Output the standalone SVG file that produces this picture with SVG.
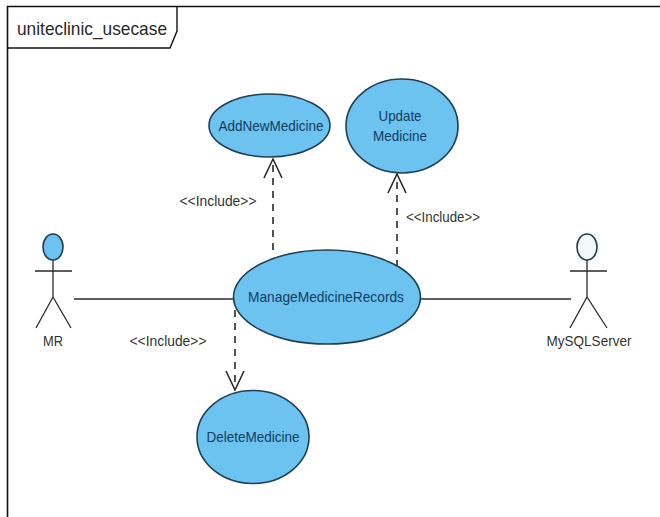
<svg xmlns="http://www.w3.org/2000/svg" width="660" height="517" viewBox="0 0 660 517">
<style>
text{font-family:"Liberation Sans",Arial,sans-serif;text-anchor:middle}
.uc{fill:#6cc3ef;stroke:#1f3f55;stroke-width:1.6}
.ut{font-size:15px;fill:#123c5e}
.lb{font-size:15px;fill:#333}
.ln{fill:none;stroke:#2a2a2a;stroke-width:1.6}
.ds{stroke-dasharray:7 6}
.act{fill:none;stroke:#2a2a2a;stroke-width:1.3}
</style>
<defs>
<marker id="open" markerUnits="userSpaceOnUse" markerWidth="24" markerHeight="24" refX="21" refY="10" orient="auto" viewBox="0 0 24 20">
<path d="M2 1L21 10L2 19" fill="none" stroke="#2a2a2a" stroke-width="1.600"/>
</marker>
</defs>
<rect width="660" height="517" fill="#fff"/>
<g id="frame">
<path d="M7.500 517V6.500H660" fill="none" stroke="#111" stroke-width="1.600"/>
<path d="M7.500 48H170L177 31V6.500" fill="none" stroke="#111" stroke-width="1.400"/>
<text x="92" y="35" font-size="19" fill="#2a2a2a" textLength="150" lengthAdjust="spacingAndGlyphs">uniteclinic_usecase</text>
</g>
<g id="connectors">
<path class="ln" d="M74 299H233.500"/>
<path class="ln" d="M421 299H571"/>
<path class="ln ds" d="M273 250V159" marker-end="url(#open)"/>
<path class="ln ds" d="M397 267V174" marker-end="url(#open)"/>
<path class="ln ds" d="M235 310V390" marker-end="url(#open)"/>
<text class="lb" x="218" y="206" textLength="77" lengthAdjust="spacingAndGlyphs">&lt;&lt;Include&gt;&gt;</text>
<text class="lb" x="443" y="222" textLength="74" lengthAdjust="spacingAndGlyphs">&lt;&lt;Include&gt;&gt;</text>
<text class="lb" x="168" y="346" textLength="77" lengthAdjust="spacingAndGlyphs">&lt;&lt;Include&gt;&gt;</text>
</g>
<g id="AddNewMedicine">
<ellipse class="uc" cx="269.500" cy="125.500" rx="60.500" ry="31.500"/>
<text class="ut" x="271" y="131" textLength="105" lengthAdjust="spacingAndGlyphs">AddNewMedicine</text>
</g>
<g id="UpdateMedicine">
<ellipse class="uc" cx="402" cy="126" rx="56" ry="47"/>
<text class="ut" x="400" y="121" textLength="43" lengthAdjust="spacingAndGlyphs">Update</text>
<text class="ut" x="400" y="141" textLength="54" lengthAdjust="spacingAndGlyphs">Medicine</text>
</g>
<g id="ManageMedicineRecords">
<ellipse class="uc" cx="327" cy="297" rx="93.500" ry="47"/>
<text class="ut" x="326" y="302" textLength="156" lengthAdjust="spacingAndGlyphs">ManageMedicineRecords</text>
</g>
<g id="DeleteMedicine">
<ellipse class="uc" cx="253" cy="437" rx="56" ry="46.500"/>
<text class="ut" x="253" y="442" textLength="93" lengthAdjust="spacingAndGlyphs">DeleteMedicine</text>
</g>
<g id="MR">
<ellipse cx="53" cy="247" rx="10" ry="13" fill="#6cc3ef" stroke="#1f3f55" stroke-width="1.600"/>
<path class="act" d="M53 260V297M35 271H72M36 328L53 297L71 328"/>
<text class="lb" x="53" y="346" textLength="20" lengthAdjust="spacingAndGlyphs">MR</text>
</g>
<g id="MySQLServer">
<ellipse cx="587" cy="247" rx="10" ry="13" fill="#f4fafc" stroke="#1f3f55" stroke-width="1.600"/>
<path class="act" d="M587 260V297M570 271H607M570 328L587 297L607 328"/>
<text class="lb" x="589" y="346" textLength="85" lengthAdjust="spacingAndGlyphs">MySQLServer</text>
</g>
</svg>
